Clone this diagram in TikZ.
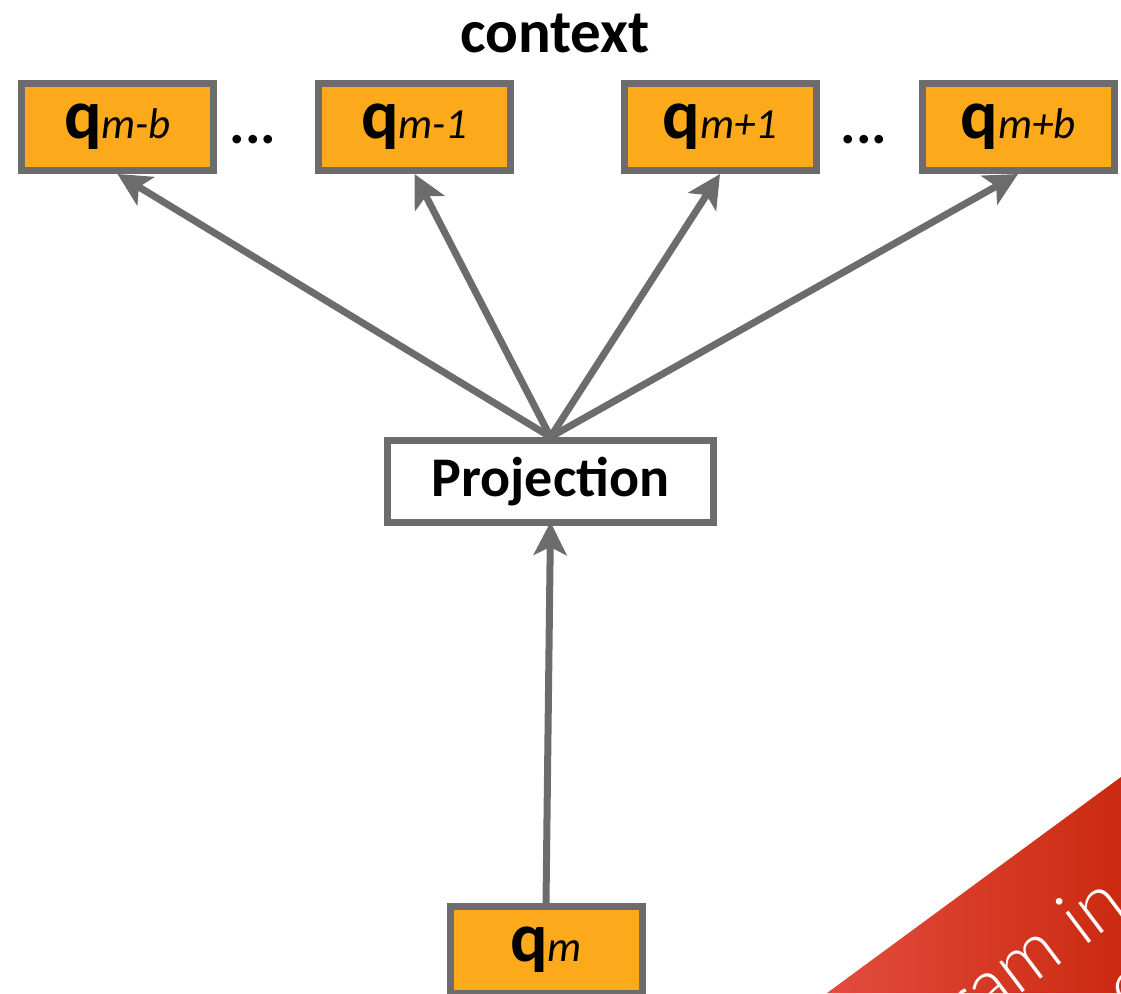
\documentclass[tikz,border=0pt]{standalone}
\usepackage{fontspec}
\setmainfont{Carlito}
\newfontfamily\ribbonfont{Lato Light}
\usetikzlibrary{arrows.meta}
\definecolor{boxorange}{HTML}{FCAA1C}
\definecolor{edgegray}{HTML}{6C6C6C}
\definecolor{ribbonlight}{HTML}{E24C3E}
\definecolor{ribbondark}{HTML}{CB2A10}
% vector label: bold q with an italic index
\newcommand\qlab[1]{{\fontsize{70}{70}\selectfont\bfseries q}{\fontsize{43}{43}\selectfont\itshape #1}}
\begin{document}
\begin{tikzpicture}[x=1pt,y=-1pt,
  vecbox/.style={draw=edgegray,line width=7pt,fill=boxorange,inner sep=0pt,
    minimum width=192pt,minimum height=87pt},
  projbox/.style={draw=edgegray,line width=7pt,fill=white,inner sep=0pt,
    minimum width=326pt,minimum height=82pt,
    font=\fontsize{56}{56}\selectfont\bfseries},
  link/.style={draw=edgegray,line width=7pt,
    -{Stealth[length=33pt,width=33pt,inset=8pt]}},
  dotstyle/.style={font=\fontsize{58}{58}\selectfont\bfseries,inner sep=0pt},
  ribbontext/.style={text=white,font=\ribbonfont\fontsize{76}{76}\selectfont,
    rotate=37,inner sep=0pt}]
\useasboundingbox (0,0) rectangle (1121,993);

% context window
\node[font=\fontsize{61}{61}\selectfont\bfseries,anchor=base,inner sep=0pt]
  (ctx) at (555,52) {context};
\node[vecbox] (qmb) at (117.5,127) {\qlab{m-b}};
\node[vecbox] (qm1) at (414.5,127) {\qlab{m-1}};
\node[vecbox] (qp1) at (720,127) {\qlab{m+1}};
\node[vecbox] (qpb) at (1018,127) {\qlab{m+b}};
\node[dotstyle,anchor=base] (dl) at (253,143.5) {...};
\node[dotstyle,anchor=base] (dr) at (864,143.5) {...};

% projection layer and input vector
\node[projbox] (proj) at (550.5,481.5) {Projection};
\node[vecbox] (qm) at (546,950) {\qlab{m}};

% connectors
\draw[link] (qm.north) -- ([yshift=4pt]proj.south);
\draw[link] (proj.north) -- (qmb.south);
\draw[link] (proj.north) -- (qm1.south);
\draw[link] (proj.north) -- (qp1.south);
\draw[link] (proj.north) -- (qpb.south);

% corner ribbon
\begin{scope}
  \clip (0,0) rectangle (1121,993);
  \shade[left color=ribbonlight,right color=ribbondark]
    (827,993) -- (1121,777) -- (1121,993) -- cycle;
  \node[ribbontext,anchor=base east] (rib) at (1130,912) {gram in};
  \node[ribbontext,anchor=base west] (rib2) at (1129,1018) {e};
\end{scope}
\end{tikzpicture}
\end{document}
